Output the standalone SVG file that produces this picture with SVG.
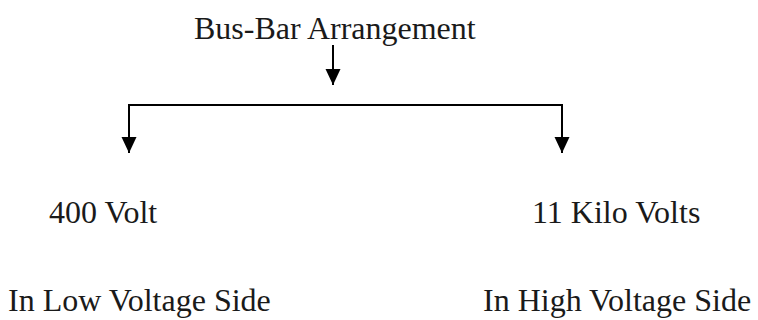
<svg xmlns="http://www.w3.org/2000/svg" width="758" height="320" viewBox="0 0 758 320">
<style>
  text { font-family: "Liberation Serif", "Times New Roman", serif; font-size: 32px; fill: #1a1a1a; }
  .ln { stroke: #000; stroke-width: 2; fill: none; }
</style>
<defs>
  <marker id="ah" markerWidth="16" markerHeight="16" viewBox="0 0 16 16" refX="16" refY="8" orient="auto" markerUnits="userSpaceOnUse">
    <path d="M0,0.5 L16,8 L0,15.5 Z" fill="#000"/>
  </marker>
</defs>
<rect width="758" height="320" fill="#fff"/>
<g id="root"><text x="194" y="39">Bus-Bar Arrangement</text></g>
<g id="connectors">
  <line class="ln" x1="333" y1="45" x2="333" y2="85" marker-end="url(#ah)"/>
  <polyline class="ln" points="129,105 562,105 562,153" marker-end="url(#ah)"/>
  <line class="ln" x1="129" y1="104" x2="129" y2="153" marker-end="url(#ah)"/>
</g>
<g id="low"><text x="49" y="223">400 Volt</text><text x="8" y="311">In Low Voltage Side</text></g>
<g id="high"><text x="532" y="223">11 Kilo Volts</text><text x="483" y="311">In High Voltage Side</text></g>
</svg>
